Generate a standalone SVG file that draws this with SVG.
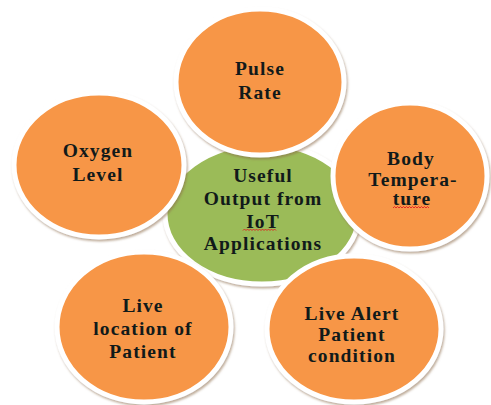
<svg xmlns="http://www.w3.org/2000/svg" width="491" height="405" viewBox="0 0 491 405">
  <defs>
    <filter id="soft-shadow" x="-10%" y="-10%" width="125%" height="125%">
      <feDropShadow dx="1.2" dy="2" stdDeviation="1.3" flood-color="#8a6a4a" flood-opacity="0.55"/>
    </filter>
  </defs>
  <style>
    .disc { stroke: #ffffff; stroke-width: 5; filter: url(#soft-shadow); }
    .orange { fill: #F79646; }
    .green { fill: #9BBB59; }
    .label { font-family: "Liberation Serif", "Times New Roman", serif; font-weight: bold; font-size: 19.5px; letter-spacing: 1.1px; fill: #111a1a; text-anchor: middle; }
    .spell { fill: none; stroke: #e02020; stroke-width: 0.9; }
  </style>
  <rect width="491" height="405" fill="#ffffff"/>

  <!-- hub -->
  <g id="hub">
    <ellipse class="disc green" cx="262" cy="214" rx="97" ry="70"/>
    <text class="label" x="263" y="182">Useful</text>
    <text class="label" x="263" y="205">Output from</text>
    <text class="label" x="263" y="228">IoT</text>
    <path class="spell" d="M243 230.5 l1.5 -1.5 l1.5 1.5 l1.5 -1.5 l1.5 1.5 l1.5 -1.5 l1.5 1.5 l1.5 -1.5 l1.5 1.5 l1.5 -1.5 l1.5 1.5 l1.5 -1.5 l1.5 1.5 l1.5 -1.5 l1.5 1.5 l1.5 -1.5 l1.5 1.5 l1.5 -1.5 l1.5 1.5 l1.5 -1.5 l1.5 1.5 l1.5 -1.5 l1.5 1.5"/>
    <text class="label" x="263" y="250">Applications</text>
  </g>

  <!-- satellites -->
  <g id="pulse-rate">
    <ellipse class="disc orange" cx="260" cy="82" rx="84" ry="73"/>
    <text class="label" x="260" y="75">Pulse</text>
    <text class="label" x="260" y="99">Rate</text>
  </g>

  <g id="oxygen-level">
    <ellipse class="disc orange" cx="99" cy="165" rx="85" ry="72"/>
    <text class="label" x="98" y="157">Oxygen</text>
    <text class="label" x="98" y="181">Level</text>
  </g>

  <g id="body-temperature">
    <ellipse class="disc orange" cx="410" cy="176" rx="77" ry="73"/>
    <text class="label" x="411" y="165">Body</text>
    <text class="label" x="413" y="186">Tempera-</text>
    <text class="label" x="412" y="205">ture</text>
    <path class="spell" d="M393 208 l1.5 -1.5 l1.5 1.5 l1.5 -1.5 l1.5 1.5 l1.5 -1.5 l1.5 1.5 l1.5 -1.5 l1.5 1.5 l1.5 -1.5 l1.5 1.5 l1.5 -1.5 l1.5 1.5 l1.5 -1.5 l1.5 1.5 l1.5 -1.5 l1.5 1.5 l1.5 -1.5 l1.5 1.5 l1.5 -1.5 l1.5 1.5 l1.5 -1.5 l1.5 1.5 l1.5 -1.5 l1.5 1.5"/>
  </g>

  <g id="live-location">
    <ellipse class="disc orange" cx="144" cy="327" rx="87" ry="75"/>
    <text class="label" x="143" y="312">Live</text>
    <text class="label" x="143" y="335">location of</text>
    <text class="label" x="143" y="358">Patient</text>
  </g>

  <g id="live-alert">
    <ellipse class="disc orange" cx="354" cy="329" rx="87" ry="73"/>
    <text class="label" x="352" y="320">Live Alert</text>
    <text class="label" x="352" y="341">Patient</text>
    <text class="label" x="352" y="362">condition</text>
  </g>

  <g id="connectors"></g>
</svg>
